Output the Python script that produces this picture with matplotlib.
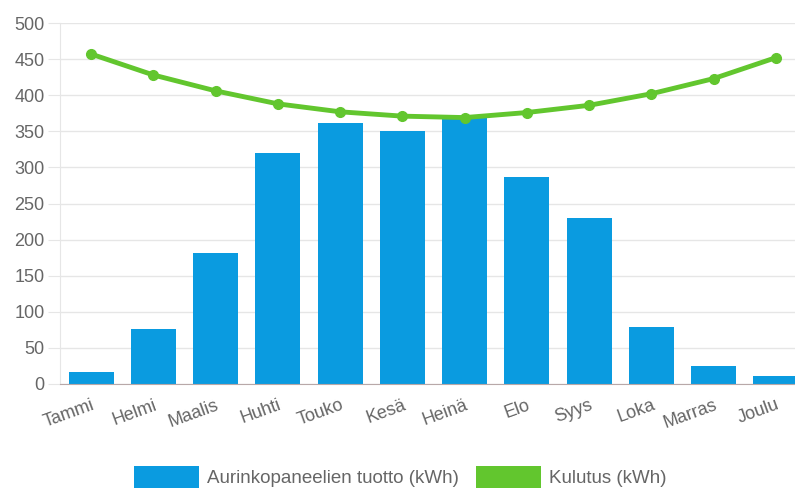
import numpy as np
import matplotlib
matplotlib.use("Agg")
import matplotlib.pyplot as plt
from matplotlib.patches import Patch

plt.rcParams['font.family'] = ['Liberation Sans', 'DejaVu Sans']

# kuukausittaiset arvot (luettu kuvasta)
kuukaudet = ['Tammi', 'Helmi', 'Maalis', 'Huhti', 'Touko', 'Kesä',
             'Heinä', 'Elo', 'Syys', 'Loka', 'Marras', 'Joulu']
tuotto = [16, 76, 181, 320, 362, 351, 370, 287, 230, 79, 25, 11]
kulutus = [457, 428, 406, 388, 377, 371, 369, 376, 386, 402, 423, 452]

SININEN = '#0a9be0'
VIHREA = '#62c62e'
HARMAA = '#666666'

fig = plt.figure(figsize=(7.95, 4.88), dpi=100)
ax = fig.add_axes([60/795, 104/488, 747/795, 361/488])

x = np.arange(len(kuukaudet))
ax.bar(x, tuotto, width=0.72, color=SININEN, zorder=2)
ax.plot(x, kulutus, color=VIHREA, lw=3.5, marker='o', ms=7,
        solid_capstyle='round', zorder=3)

ax.set_xlim(-0.5, len(kuukaudet) - 0.5)
ax.set_ylim(0, 500)
ax.set_yticks(np.arange(0, 501, 50))
ax.grid(axis='y', color='#e6e6e6', lw=1, zorder=0)

for s in ['top', 'right']:
    ax.spines[s].set_visible(False)
ax.spines['left'].set_color('#e6e6e6')
ax.spines['bottom'].set_color('#b8a8a8')
ax.spines['bottom'].set_zorder(4)

ax.tick_params(axis='y', colors='#e6e6e6', length=9, labelcolor=HARMAA,
               labelsize=13, pad=2)
ax.tick_params(axis='x', length=0, labelcolor=HARMAA, labelsize=13, pad=9)
ax.set_xticks(x)
ax.set_xticklabels(kuukaudet, rotation=20, ha='right', rotation_mode='anchor')

# selite alareunaan (osittain kuvan ulkopuolella kuten alkuperäisessä)
kahvat = [Patch(facecolor=SININEN, label='Aurinkopaneelien tuotto (kWh)'),
          Patch(facecolor=VIHREA, label='Kulutus (kWh)')]
fig.legend(handles=kahvat, loc='upper center', bbox_to_anchor=(0.503, 22/488),
           ncol=2, frameon=False, fontsize=13.5, labelcolor=HARMAA,
           handlelength=3.5, handleheight=1.4, handletextpad=0.4,
           columnspacing=0.9, borderpad=0, borderaxespad=0)

fig.savefig('out.png', dpi=100)
